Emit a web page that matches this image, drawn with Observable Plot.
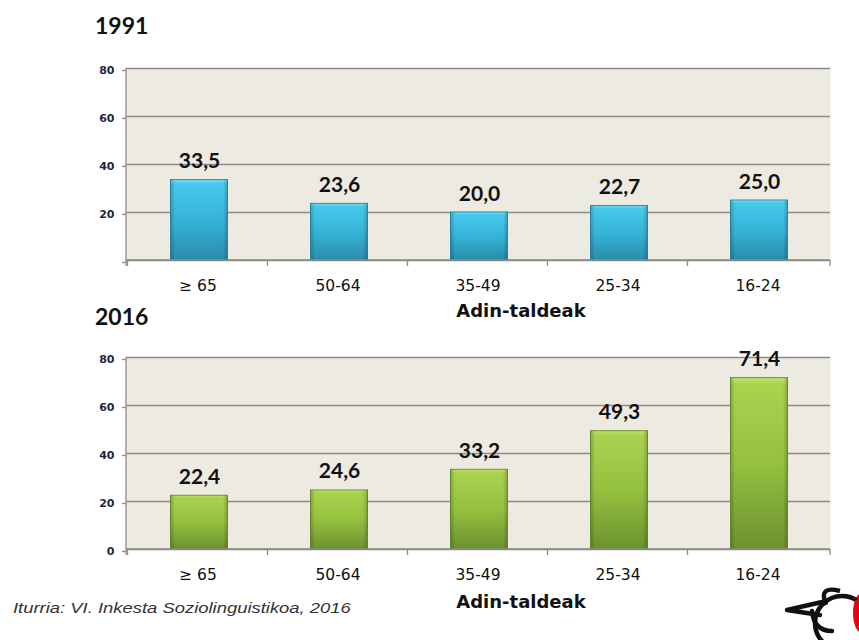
<!DOCTYPE html>
<html><head><meta charset="utf-8">
<script src="https://cdn.jsdelivr.net/npm/d3@7"></script>
<script src="https://cdn.jsdelivr.net/npm/@observablehq/plot@0.6"></script>
<style>
body{margin:0;background:#fff;}
#wrap{position:relative;width:859px;height:640px;overflow:hidden;background:#fff;}
.title{position:absolute;left:95px;font:bold 23px/23px Lato,sans-serif;color:#111;}
.xlab{position:absolute;left:421px;width:200px;text-align:center;font:bold 18px/18px "DejaVu Sans",sans-serif;color:#111;}
.chart{position:absolute;left:0;}
.cap{position:absolute;left:13px;top:601px;font:italic 14.5px/14.5px "Liberation Sans",Arial,sans-serif;color:#333;white-space:nowrap;transform:scaleX(1.27);transform-origin:0 0;}
#logo{position:absolute;left:770px;top:575px;}
</style></head>
<body>
<div id="wrap">
<svg width="0" height="0" style="position:absolute">
  <defs>
    <linearGradient id="gCyan" x1="0" y1="0" x2="0" y2="1">
      <stop offset="0" stop-color="#7AE3F8"/>
      <stop offset="0.05" stop-color="#46C9EA"/>
      <stop offset="0.5" stop-color="#36B4D8"/>
      <stop offset="1" stop-color="#2A8CAA"/>
    </linearGradient>
    <linearGradient id="gGreen" x1="0" y1="0" x2="0" y2="1">
      <stop offset="0" stop-color="#C4E270"/>
      <stop offset="0.04" stop-color="#A9D24F"/>
      <stop offset="0.5" stop-color="#95C13F"/>
      <stop offset="1" stop-color="#6B922E"/>
    </linearGradient>
    <linearGradient id="gSide" x1="0" y1="0" x2="1" y2="0">
      <stop offset="0" stop-color="#000" stop-opacity="0.2"/>
      <stop offset="0.08" stop-color="#000" stop-opacity="0"/>
      <stop offset="0.92" stop-color="#000" stop-opacity="0"/>
      <stop offset="1" stop-color="#000" stop-opacity="0.2"/>
    </linearGradient>
  </defs>
</svg>
<div class="title" style="top:14px">1991</div>
<div class="chart" id="c1" style="top:50px"></div>
<div class="xlab" style="top:302px">Adin-taldeak</div>
<div class="title" style="top:305px">2016</div>
<div class="chart" id="c2" style="top:339px"></div>
<div class="xlab" style="top:593px">Adin-taldeak</div>
<div class="cap" id="cap"></div>
<svg id="logo" width="89" height="65">
  <circle cx="72" cy="48" r="27" fill="#fff" stroke="#111" stroke-width="4.5"/>
  <path d="M84,22 Q98,30 92,58 L89,58 Q94,34 84,24Z" fill="#E30613"/>
  <ellipse cx="92" cy="38" rx="9" ry="20" fill="#E30613"/>
  <path d="M17,35 L52,27 M17,35 L50,40 M42,36 Q44,56 62,56" fill="none" stroke="#111" stroke-width="4.5" stroke-linecap="round"/>
  <path d="M56,30 Q48,10 70,16" fill="none" stroke="#111" stroke-width="4.5"/>
  <circle cx="86" cy="24" r="1.5" fill="#111"/>
</svg>
</div>
<script>
const categories = ["≥ 65", "50-64", "35-49", "25-34", "16-24"];
const values1991 = [33.5, 23.6, 20.0, 22.7, 25.0];
const values2016 = [22.4, 24.6, 33.2, 49.3, 71.4];
const yTicks = [0, 20, 40, 60, 80];
const caption = "Iturria: VI. Inkesta Soziolinguistikoa, 2016";

document.getElementById("cap").textContent = caption;

const axisColor = "#8a8a8a";

function frameLines(index, scales, values, dims) {
  const x = scales.x, y = scales.y;
  const left = dims.marginLeft, right = dims.width - dims.marginRight;
  const bottom = dims.height - dims.marginBottom;
  const step = (x.step ? x.step() : (right - left) / categories.length);
  const bw = (x.bandwidth ? x.bandwidth() : step * 0.41);
  const bounds = categories.map(c => x(c) - (step - bw) / 2);
  bounds.push(right);
  const g = d3.create("svg:g").attr("stroke", axisColor).attr("stroke-width", 1.3).attr("fill", "none");
  g.append("line").attr("x1", left).attr("x2", left).attr("y1", y(80)).attr("y2", bottom + 6);
  g.append("line").attr("x1", left).attr("x2", right).attr("y1", y(0)).attr("y2", y(0));
  for (const b of bounds) g.append("line").attr("x1", b).attr("x2", b).attr("y1", y(0)).attr("y2", y(0) + 6);
  return g.node();
}

function chart(values, grad, edge, showZero) {
  const data = categories.map((c, i) => ({cat: c, v: values[i]}));
  return Plot.plot({
    width: 859, height: 250,
    marginLeft: 126, marginRight: 29, marginTop: 18, marginBottom: 40,
    style: {background: "transparent", overflow: "visible"},
    x: {domain: categories, paddingInner: 0.59, paddingOuter: 0.295, label: null},
    y: {domain: [0, 80], label: null},
    marks: [
      Plot.frame({fill: "#EDEAE1", stroke: null}),
      Plot.gridY(yTicks, {stroke: axisColor, strokeOpacity: 1, strokeWidth: 1.3}),
      Plot.barY(data, {x: "cat", y: "v", fill: `url(#${grad})`, stroke: edge, strokeWidth: 1, dx: 1.5}),
      Plot.barY(data, {x: "cat", y: "v", fill: "url(#gSide)", dx: 1.5}),
      frameLines,
      Plot.axisY(yTicks, {tickSize: 4, tickPadding: 8, stroke: axisColor, strokeWidth: 1.3, fill: "#1b2740",
        fontSize: 11, fontWeight: "bold", fontFamily: "DejaVu Sans", dy: 2,
        tickFormat: d => (d === 0 && !showZero) ? "" : String(d), label: null}),
      Plot.axisX({tickSize: 0, tickPadding: 19, fontSize: 15.5, fontFamily: "DejaVu Sans", fill: "#111", label: null}),
      Plot.text(data, {x: "cat", y: "v", text: d => d.v.toFixed(1).replace(".", ","), dy: -12, dx: 1.5, lineAnchor: "bottom",
        fontSize: 21, fontWeight: "bold", fontFamily: "Lato", fill: "#111"})
    ]
  });
}

document.getElementById("c1").append(chart(values1991, "gCyan", "#2C8FAE", false));
document.getElementById("c2").append(chart(values2016, "gGreen", "#6E9430", true));
</script>
</body></html>
